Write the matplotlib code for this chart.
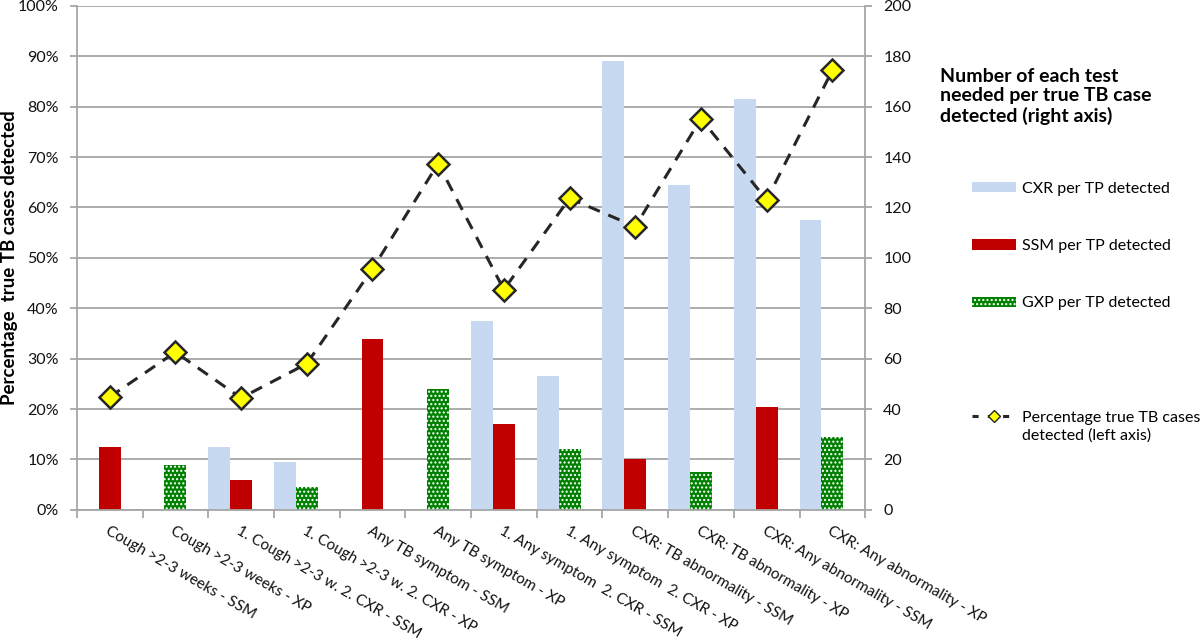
import numpy as np
import matplotlib
matplotlib.use("Agg")
import matplotlib.pyplot as plt
from matplotlib.patches import Patch
from matplotlib.lines import Line2D
from matplotlib.ticker import PercentFormatter

plt.rcParams['font.family'] = ['Lato', 'DejaVu Sans']

categories = [
    "Cough >2-3 weeks - SSM",
    "Cough >2-3 weeks - XP",
    "1. Cough >2-3 w. 2. CXR - SSM",
    "1. Cough >2-3 w. 2. CXR - XP",
    "Any TB symptom - SSM",
    "Any TB symptom - XP",
    "1. Any symptom  2. CXR - SSM",
    "1. Any symptom  2. CXR - XP",
    "CXR: TB abnormality - SSM",
    "CXR: TB abnormality - XP",
    "CXR: Any abnormality - SSM",
    "CXR: Any abnormality - XP",
]
# tests needed per true TB case detected (right axis)
cxr = [np.nan, np.nan, 25, 19, np.nan, np.nan, 75, 53, 178, 129, 163, 115]
ssm = [25, np.nan, 12, np.nan, 68, np.nan, 34, np.nan, 20, np.nan, 41, np.nan]
gxp = [np.nan, 18, np.nan, 9, np.nan, 48, np.nan, 24, np.nan, 15, np.nan, 29]
# percentage of true TB cases detected (left axis)
pct_detected = [22.4, 31.3, 22.2, 29.0, 47.8, 68.7, 43.7, 61.8, 56.2, 77.6, 61.5, 87.2]

c_cxr = '#C6D9F1'
c_ssm = '#C00000'
c_gxp = '#008000'
c_grid = '#A6A6A6'


def main():
    fig = plt.figure(figsize=(12, 6.43), dpi=100)
    ax = fig.add_axes([0.064, 0.207, 0.657, 0.784])

    x = np.arange(len(categories))
    w = 1 / 3
    ax.bar(x - w, cxr, w, color=c_cxr, linewidth=0)
    ax.bar(x, ssm, w, color=c_ssm, linewidth=0)
    ax.bar(x, gxp, w, color=c_gxp, hatch='....', edgecolor='white', linewidth=0)

    ax.set_xlim(-0.5, len(categories) - 0.5)
    ax.set_ylim(0, 200)
    ax.set_yticks(range(0, 201, 20))
    ax.grid(axis='y', color=c_grid, lw=1.3)
    ax.set_axisbelow(True)
    ax.spines['top'].set_visible(False)
    for s in ['left', 'right', 'bottom']:
        ax.spines[s].set_color(c_grid)
        ax.spines[s].set_linewidth(1.3)

    ax.set_xticks(x)
    ax.set_xticklabels(categories, rotation=-30, ha='left', va='top',
                       rotation_mode='anchor', fontsize=11, color='#111111')
    ax.tick_params(axis='x', which='major', length=0, pad=10)
    ax.set_xticks(np.arange(-0.5, len(categories), 1), minor=True)
    ax.tick_params(axis='x', which='minor', length=6, width=1.3, color=c_grid)

    ax2 = ax.twinx()
    # twinx moves the original ticks to the left, put them back on the right
    ax.yaxis.tick_right()
    ax.tick_params(axis='y', colors=c_grid, labelcolor='#111111', labelsize=11.5,
                   length=5, width=1.3, pad=8)

    ax2.plot(x, pct_detected, color='#262626', lw=2.2, dashes=(4, 3),
             marker='D', markersize=11, markerfacecolor='#FFFF00',
             markeredgecolor='#262626', markeredgewidth=1.8, zorder=5)
    ax2.set_ylim(0, 100)
    ax2.set_yticks(range(0, 101, 10))
    ax2.yaxis.set_major_formatter(PercentFormatter(decimals=0))
    ax2.yaxis.tick_left()
    ax2.yaxis.set_label_position('left')
    for s in ax2.spines.values():
        s.set_visible(False)
    ax2.tick_params(axis='y', colors=c_grid, labelcolor='#111111', labelsize=11.5,
                    length=5, width=1.3, pad=8)
    ax2.set_ylabel('Percentage  true TB cases detected', fontsize=13.5,
                   fontweight='bold')
    ax2.yaxis.set_label_coords(-0.074, 0.5)

    fig.text(0.783, 0.895, 'Number of each test\nneeded per true TB case\ndetected (right axis)',
             fontsize=14, fontweight='bold', va='top', ha='left', linespacing=1.2)

    handles = [Patch(facecolor=c_cxr, linewidth=0),
               Patch(facecolor=c_ssm, linewidth=0),
               Patch(facecolor=c_gxp, hatch='....', edgecolor='white', linewidth=0)]
    labels = ['CXR per TP detected', 'SSM per TP detected', 'GXP per TP detected']
    fig.legend(handles, labels, loc='upper left', bbox_to_anchor=(0.81, 0.717),
               frameon=False, fontsize=11.5, handlelength=2.75, handleheight=0.6,
               handletextpad=0.4, labelspacing=2.7, borderpad=0, borderaxespad=0)

    line_h = Line2D([], [], color='#262626', lw=2.2, dashes=(2, 3), marker='D',
                    markersize=6, markerfacecolor='#FFFF00', markeredgecolor='#262626')
    blank = Line2D([], [], color='none')
    fig.legend([line_h, blank], ['Percentage true TB cases', 'detected (left axis)'],
               loc='upper left', bbox_to_anchor=(0.81, 0.361), frameon=False,
               fontsize=11.5, handlelength=2.75, handletextpad=0.4,
               labelspacing=0.2, borderpad=0, borderaxespad=0)

    fig.savefig('out.png', dpi=100)


if __name__ == "__main__":
    main()
